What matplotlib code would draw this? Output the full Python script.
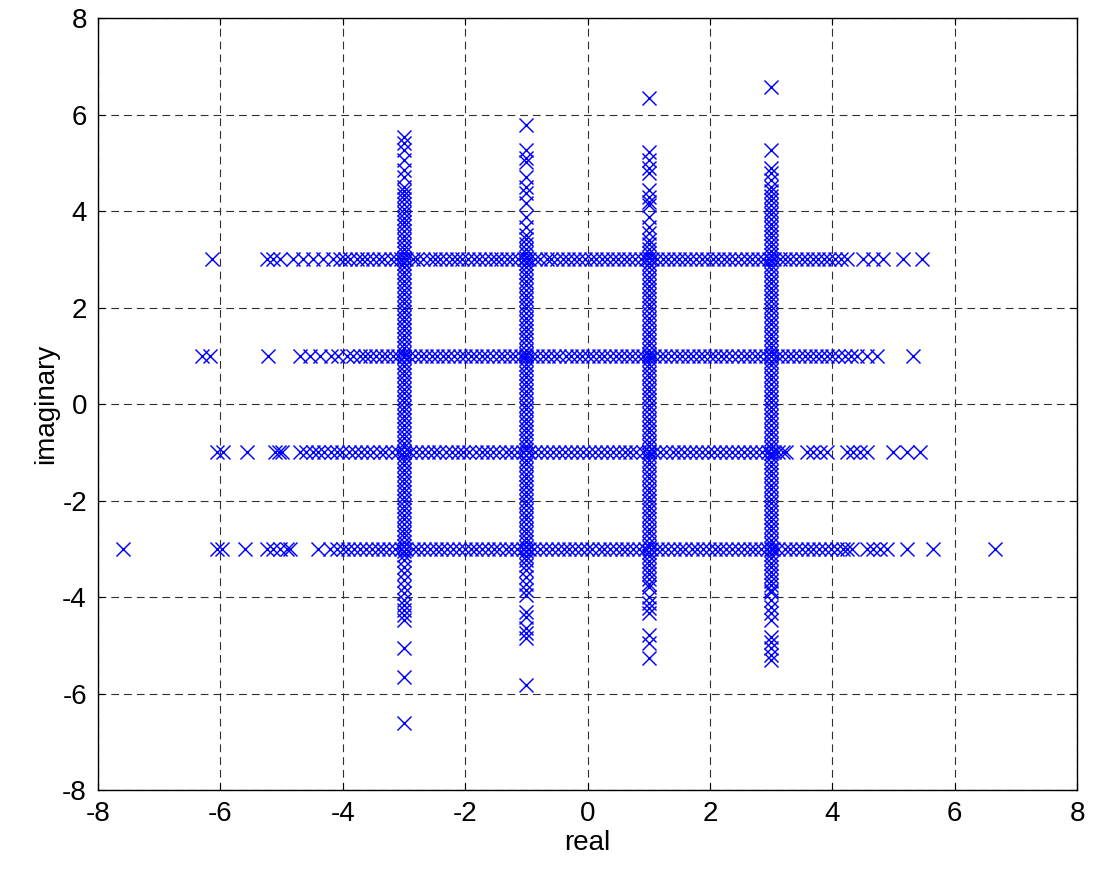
"""
16-QAM received constellation scatter (real vs imaginary).
"""

import numpy as np
import matplotlib.pyplot as plt

# x positions of the points lying on each horizontal row (row imaginary value -> list of real values)
row_levels = [3, 1, -1, -3]

row_p3 = [-6.14, -5.24, -5.14, -5.03, -4.81, -4.65, -4.48, -4.32, -4.16,
          -4.05, -3.96, -3.88, -3.77, -3.69, -3.6, -3.5, -3.41, -3.33, -3.22, -3.13,
          -3.05, -2.96, -2.86, -2.78, -2.69, -2.58, -2.5, -2.41, -2.32, -2.22, -2.14,
          -2.05, -1.95, -1.86, -1.77, -1.68, -1.58, -1.5, -1.41, -1.31, -1.23, -1.13,
          -1.04, -0.95, -0.86, -0.77, -0.67, -0.59, -0.5, -0.4, -0.32, -0.22, -0.14,
          -0.04, 0.05, 0.14, 0.23, 0.32, 0.41, 0.5, 0.6, 0.68, 0.78, 0.87, 0.96, 1.05,
          1.14, 1.23, 1.32, 1.41, 1.5, 1.59, 1.68, 1.77, 1.87, 1.95, 2.05, 2.14, 2.23,
          2.32, 2.41, 2.5, 2.6, 2.68, 2.78, 2.86, 2.96, 3.04, 3.14, 3.23, 3.31, 3.41,
          3.5, 3.59, 3.68, 3.77, 3.86, 3.95, 4.04, 4.14, 4.24,
          4.5, 4.67, 4.83, 5.16, 5.46]

row_p1 = [-6.3, -6.17, -5.22, -4.7, -4.54, -4.37, -4.2, -4.08, -3.93, -3.83,
          -3.72, -3.63, -3.55, -3.45, -3.36, -3.27, -3.18, -3.09, -3.0, -2.91, -2.82,
          -2.73, -2.64, -2.55, -2.46, -2.36, -2.28, -2.18, -2.09, -2.0, -1.91, -1.82,
          -1.73, -1.64, -1.55, -1.45, -1.37, -1.27, -1.18, -1.09, -1.0, -0.91, -0.82,
          -0.73, -0.64, -0.55, -0.46, -0.36, -0.27, -0.18, -0.09, 0.0, 0.09, 0.18,
          0.27, 0.36, 0.46, 0.55, 0.64, 0.73, 0.82, 0.91, 1.0, 1.09, 1.18, 1.27, 1.36,
          1.46, 1.55, 1.64, 1.73, 1.82, 1.91, 2.0, 2.09, 2.18, 2.27, 2.36, 2.46, 2.55,
          2.64, 2.73, 2.82, 2.91, 3.0, 3.09, 3.18, 3.27, 3.36, 3.45, 3.55, 3.64, 3.73,
          3.82, 3.91, 4.0, 4.1, 4.2, 4.3, 4.4,
          4.56, 4.73, 5.32]

row_m1 = [-6.05, -5.95, -5.57, -5.1, -5.05, -5.0,
          -4.7, -4.6, -4.49, -4.4, -4.3, -4.2, -4.1, -4.01, -3.9, -3.8, -3.7, -3.61,
          -3.5, -3.4, -3.31, -3.2, -3.1, -3.0, -2.9, -2.81, -2.71, -2.61, -2.51, -2.42,
          -2.32, -2.22, -2.12, -2.03, -1.93, -1.83, -1.73, -1.64, -1.54, -1.44, -1.34,
          -1.25, -1.15, -1.05, -0.95, -0.86, -0.76, -0.66, -0.56, -0.47, -0.37, -0.27,
          -0.17, -0.08, 0.02, 0.12, 0.22, 0.31, 0.41, 0.51, 0.61, 0.7, 0.8, 0.9, 1.0,
          1.09, 1.19, 1.29, 1.39, 1.48, 1.58, 1.68, 1.78, 1.87, 1.97, 2.07, 2.17, 2.26,
          2.36, 2.46, 2.56, 2.65, 2.75, 2.85, 2.95, 3.05, 3.12,
          3.19, 3.25, 3.58, 3.69, 3.8, 3.91, 4.24, 4.34, 4.45, 4.56, 4.99, 5.22, 5.43]

row_m3 = [-7.59, -6.06, -5.97, -5.6, -5.24, -5.14, -5.03, -4.91, -4.86, -4.41, -4.21,
          -4.1, -4.0, -3.91, -3.81, -3.72, -3.62, -3.53, -3.43, -3.34, -3.24, -3.15,
          -3.05, -2.96, -2.86, -2.77, -2.67, -2.58, -2.48, -2.39, -2.29, -2.2, -2.1,
          -2.01, -1.91, -1.82, -1.72, -1.63, -1.53, -1.44, -1.34, -1.25, -1.15, -1.06,
          -0.96, -0.87, -0.77, -0.68, -0.58, -0.49, -0.39, -0.3, -0.2, -0.11, -0.01,
          0.08, 0.18, 0.27, 0.37, 0.46, 0.56, 0.65, 0.75, 0.84, 0.94, 1.03, 1.13, 1.22,
          1.32, 1.41, 1.51, 1.6, 1.7, 1.79, 1.89, 1.98, 2.08, 2.17, 2.27, 2.36, 2.46,
          2.55, 2.65, 2.74, 2.84, 2.93, 3.03, 3.12, 3.22, 3.31, 3.41, 3.5, 3.6, 3.69,
          3.79, 3.88, 3.98, 4.07, 4.17, 4.24,
          4.32, 4.56, 4.67, 4.78, 4.89, 5.22, 5.64, 6.66]

# y positions of the points lying on each vertical column (column real value -> list of imaginary values)
col_levels = [-3, -1, 1, 3]

col_m3 = [5.53, 5.4, 5.26, 5.06, 4.85, 4.7,
          4.5, 4.42, 4.33, 4.24, 4.14, 4.05, 3.96, 3.86, 3.77, 3.68, 3.58, 3.49, 3.4,
          3.3, 3.21, 3.12, 3.02, 2.93, 2.84, 2.74, 2.65, 2.56, 2.46, 2.37, 2.28, 2.18,
          2.09, 2.0, 1.9, 1.81, 1.72, 1.62, 1.53, 1.44, 1.34, 1.25, 1.16, 1.06, 0.97,
          0.88, 0.78, 0.69, 0.6, 0.5, 0.41, 0.32, 0.22, 0.13, 0.04, -0.06, -0.15, -0.24,
          -0.34, -0.43, -0.52, -0.62, -0.71, -0.8, -0.9, -0.99, -1.08, -1.18, -1.27,
          -1.36, -1.46, -1.55, -1.64, -1.74, -1.83, -1.92, -2.02, -2.11, -2.2, -2.3,
          -2.39, -2.48, -2.58, -2.67, -2.76, -2.86, -2.95, -3.05, -3.12,
          -3.23, -3.38, -3.5, -3.65, -3.79, -3.92, -4.06, -4.17, -4.27, -4.37, -4.48,
          -5.06, -5.66, -6.61]

col_m1 = [5.78, 5.26, 5.1, 5.02, 4.7, 4.5, 4.37, 4.17, 3.88, 3.67,
          3.5, 3.41, 3.31, 3.22, 3.12, 3.03, 2.93, 2.84, 2.74, 2.65, 2.55, 2.46, 2.36,
          2.27, 2.17, 2.08, 1.98, 1.89, 1.79, 1.7, 1.6, 1.51, 1.41, 1.32, 1.22, 1.13,
          1.03, 0.94, 0.84, 0.75, 0.65, 0.56, 0.46, 0.37, 0.27, 0.18, 0.08, -0.01,
          -0.11, -0.2, -0.3, -0.39, -0.49, -0.58, -0.68, -0.77, -0.87, -0.96, -1.06,
          -1.15, -1.25, -1.34, -1.44, -1.53, -1.63, -1.72, -1.82, -1.91, -2.01, -2.1,
          -2.2, -2.29, -2.39, -2.48, -2.58, -2.67, -2.77, -2.86, -2.96, -3.05, -3.15,
          -3.24, -3.34, -3.45,
          -3.58, -3.72, -3.85, -3.96, -4.31, -4.41, -4.64, -4.75, -4.85, -5.82]

col_p1 = [6.34, 5.22, 5.06, 4.9, 4.78, 4.43, 4.29, 4.19, 4.12, 3.88, 3.67, 3.54,
          3.4, 3.31, 3.21, 3.12, 3.02, 2.93, 2.83, 2.74, 2.64, 2.55, 2.45, 2.36, 2.26,
          2.17, 2.07, 1.98, 1.88, 1.79, 1.69, 1.6, 1.5, 1.41, 1.31, 1.22, 1.12, 1.03,
          0.93, 0.84, 0.74, 0.65, 0.55, 0.46, 0.36, 0.27, 0.17, 0.08, -0.02, -0.11,
          -0.21, -0.3, -0.4, -0.49, -0.59, -0.68, -0.78, -0.87, -0.97, -1.06, -1.16,
          -1.25, -1.35, -1.44, -1.54, -1.63, -1.73, -1.82, -1.92, -2.01, -2.11, -2.2,
          -2.3, -2.39, -2.49, -2.58, -2.68, -2.77, -2.87, -2.96, -3.06, -3.15, -3.25,
          -3.34, -3.44, -3.53, -3.63, -3.72, -3.8,
          -4.0, -4.12, -4.23, -4.33, -4.79, -4.95, -5.26]

col_p3 = [6.57, 5.26, 4.9, 4.78, 4.64,
          4.5, 4.41, 4.31, 4.22, 4.12, 4.03, 3.93, 3.84, 3.74, 3.65, 3.55, 3.46, 3.36,
          3.27, 3.17, 3.08, 2.98, 2.89, 2.79, 2.7, 2.6, 2.51, 2.41, 2.32, 2.22, 2.13,
          2.03, 1.94, 1.84, 1.75, 1.65, 1.56, 1.46, 1.37, 1.27, 1.18, 1.08, 0.99, 0.89,
          0.8, 0.7, 0.61, 0.51, 0.42, 0.32, 0.23, 0.13, 0.04, -0.06, -0.15, -0.25,
          -0.34, -0.44, -0.53, -0.63, -0.72, -0.82, -0.91, -1.01, -1.1, -1.2, -1.29,
          -1.39, -1.48, -1.58, -1.67, -1.77, -1.86, -1.96, -2.05, -2.15, -2.24, -2.34,
          -2.43, -2.53, -2.62, -2.72, -2.81, -2.91, -3.0, -3.1, -3.19, -3.29, -3.38,
          -3.48, -3.57, -3.67, -3.76, -3.86, -3.9,
          -4.06, -4.2, -4.33, -4.48, -4.83, -4.93, -5.06, -5.2, -5.31]

ticks = [-8, -6, -4, -2, 0, 2, 4, 6, 8]


def collect_points():
    re, im = [], []
    for level, xs in zip(row_levels, [row_p3, row_p1, row_m1, row_m3]):
        re.extend(xs)
        im.extend([level] * len(xs))
    for level, ys in zip(col_levels, [col_m3, col_m1, col_p1, col_p3]):
        re.extend([level] * len(ys))
        im.extend(ys)
    return np.array(re), np.array(im)


def draw():
    plt.rcParams['font.family'] = ['Liberation Sans', 'DejaVu Sans']
    plt.rcParams['axes.unicode_minus'] = False
    fig = plt.figure(figsize=(10.93, 8.75), dpi=100)
    ax = fig.add_axes([0.0897, 0.0971, 0.8957, 0.8823])

    re, im = collect_points()
    ax.plot(re, im, linestyle='none', marker='x', color='#0000ff',
            markersize=9.5, markeredgewidth=1.05)

    ax.set_xlim(-8, 8)
    ax.set_ylim(-8, 8)
    ax.set_xticks(ticks)
    ax.set_yticks(ticks)
    ax.grid(True, color='#303030', linestyle=(0, (7, 4.5)), linewidth=0.8)
    ax.set_axisbelow(True)
    ax.tick_params(direction='in', top=True, right=True, length=5,
                   labelsize=20, pad=8)
    for sp in ax.spines.values():
        sp.set_linewidth(1.0)
    ax.set_xlabel('real', fontsize=20, labelpad=2)
    ax.set_ylabel('imaginary', fontsize=20, labelpad=2)

    fig.savefig('out.png', dpi=100)


if __name__ == "__main__":
    draw()
